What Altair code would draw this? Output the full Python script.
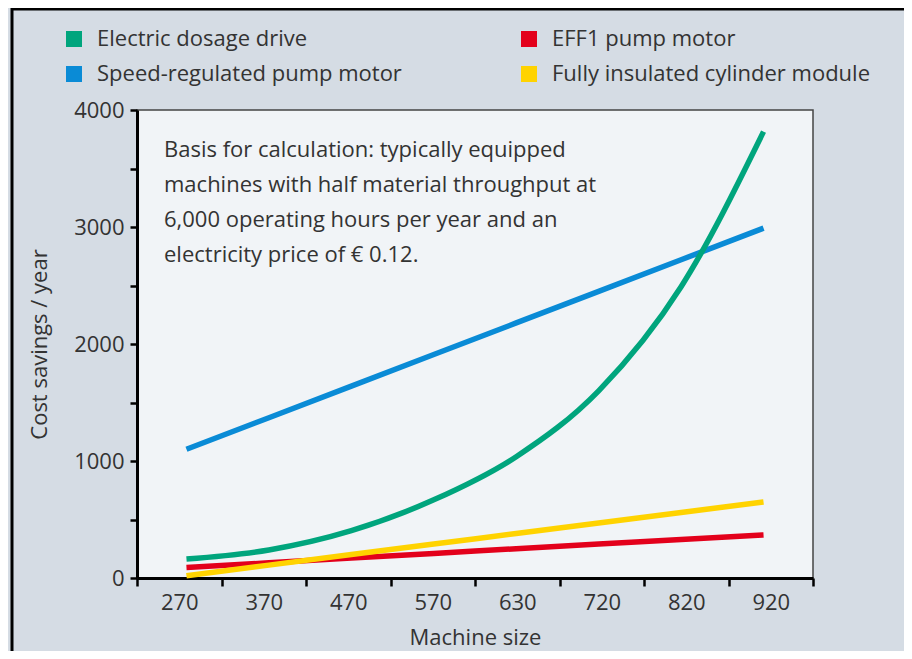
import altair as alt
import pandas as pd

sizes = ["270", "370", "470", "570", "630", "720", "820", "920"]
series = ["Electric dosage drive", "Speed-regulated pump motor",
          "EFF1 pump motor", "Fully insulated cylinder module"]
colors = ["#00a57d", "#0a8bd6", "#e3001b", "#ffd300"]

green = [162, 240, 405, 668, 1037, 1600, 2490, 3815]
blue = [1100, 1370, 1640, 1910, 2180, 2450, 2720, 2990]
red = [90, 130, 170, 210, 250, 290, 330, 367]
yellow = [20, 110, 200, 290, 380, 470, 560, 650]

note = ["Basis for calculation: typically equipped",
        "machines with half material throughput at",
        "6,000 operating hours per year and an",
        "electricity price of € 0.12."]

FONT = "Open Sans"
TXT = "#333333"
FS = 22

rows = []
for name, vals in zip(series, [green, blue, red, yellow]):
    for s, v in zip(sizes, vals):
        rows.append({"size": s, "series": name, "value": v})
df = pd.DataFrame(rows)

W, H = 676, 468

yscale = alt.Scale(domain=[0, 4000], nice=False)
yaxis = alt.Axis(values=list(range(0, 4001, 500)),
                 labelExpr="datum.value % 1000 === 0 ? format(datum.value, 'd') : ''",
                 tickSize=7, tickWidth=2.5, domainWidth=3, domainColor="black",
                 tickColor="black", grid=False, labelFontSize=FS, labelColor=TXT,
                 labelPadding=6, titleFontSize=FS, titleFontWeight="normal",
                 titleColor=TXT, titlePadding=22, labelFont=FONT, titleFont=FONT)
Y = alt.Y("value:Q", scale=yscale, axis=yaxis, title="Cost savings / year")
cscale = alt.Scale(domain=series, range=colors)

base = alt.Chart(df)

axis_layer = base.mark_square(size=256, opacity=0).encode(
    x=alt.X("size:N", sort=sizes,
            scale=alt.Scale(type="band", paddingInner=0, paddingOuter=0),
            axis=alt.Axis(tickBand="extent", labelAngle=0, labelFontSize=FS,
                          labelColor=TXT, labelFont=FONT, tickSize=8, tickWidth=2.5,
                          tickColor="black", domainColor="black", domainWidth=3,
                          labelPadding=6, grid=False, titleFontSize=FS,
                          titleFontWeight="normal", titleColor=TXT, titleFont=FONT,
                          titlePadding=14),
            title="Machine size"),
    y=Y,
    color=alt.Color("series:N", scale=cscale,
                    legend=alt.Legend(orient="none", legendX=-74, legendY=-82,
                                      columns=2, columnPadding=116, rowPadding=13,
                                      symbolType="square", symbolSize=256,
                                      symbolOpacity=1, symbolStrokeWidth=0,
                                      labelFontSize=FS, labelColor=TXT,
                                      labelFont=FONT, labelOffset=12,
                                      labelLimit=500, title=None)),
)

def line(name):
    return base.transform_filter(alt.datum.series == name).mark_line(
        strokeWidth=5.5, interpolate="monotone", strokeCap="butt").encode(
        x=alt.X("size:N", sort=sizes, scale=alt.Scale(type="point", padding=0.6),
                axis=None),
        y=Y,
        color=alt.Color("series:N", scale=cscale, legend=None),
    )

lines = [line(series[1]), line(series[2]), line(series[3]), line(series[0])]

frame = alt.Chart(pd.DataFrame({"a": [0]})).mark_rect(
    fillOpacity=0, stroke="black", strokeWidth=3).encode(
    x=alt.value(-125), x2=alt.value(770), y=alt.value(-101), y2=alt.value(600))

text = alt.Chart(pd.DataFrame({"t": [note]})).mark_text(
    align="left", baseline="alphabetic", fontSize=FS, font=FONT, color=TXT,
    lineHeight=35).encode(x=alt.value(27), y=alt.value(47), text="t")

chart = alt.layer(axis_layer, *lines, text, frame).resolve_scale(
    x="independent").properties(
    width=W, height=H,
    autosize=alt.AutoSizeParams(type="none"),
    padding={"left": 129, "top": 102, "right": 91, "bottom": 73},
    background="#d5dce4",
).configure_view(fill="#f1f4f7", stroke="#444444", strokeWidth=1.5)

chart.save("out.html", embed_options={"renderer": "svg", "actions": False})
